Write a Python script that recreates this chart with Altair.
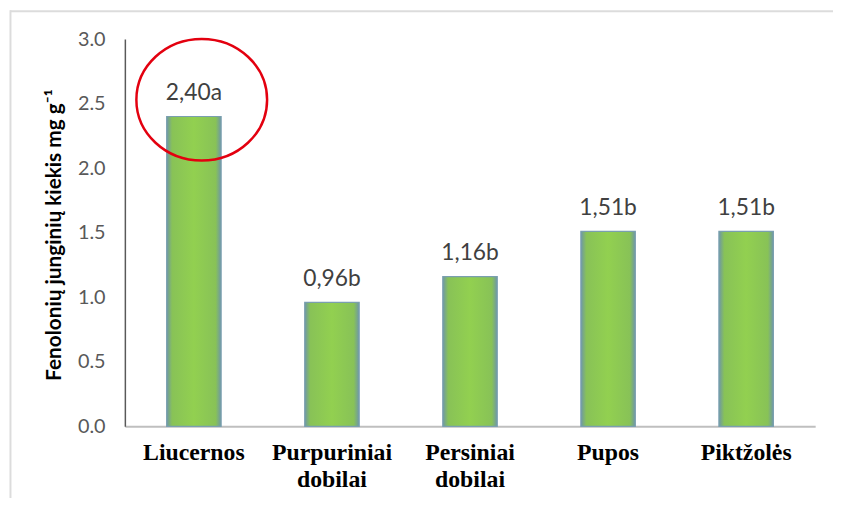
import altair as alt
import pandas as pd

categories = ["Liucernos", "Purpuriniai dobilai", "Persiniai dobilai", "Pupos", "Piktžolės"]
values = [2.40, 0.96, 1.16, 1.51, 1.51]
labels = ["2,40a", "0,96b", "1,16b", "1,51b", "1,51b"]
y_ticks = [0.0, 0.5, 1.0, 1.5, 2.0, 2.5, 3.0]
y_title = "Fenolonių junginių kiekis mg g⁻¹"

highlight_category = ["Liucernos"]
highlight_level = [2.53]

df = pd.DataFrame({"cat": categories, "val": values, "lab": labels})
hl = pd.DataFrame({"cat": highlight_category, "val": highlight_level})

W, H = 697, 391

x_enc = alt.X(
    "cat:N",
    sort=categories,
    scale=alt.Scale(domain=categories),
    axis=alt.Axis(
        title=None,
        labelAngle=0,
        labelFont="Liberation Serif",
        labelFontWeight="bold",
        labelFontSize=24,
        labelColor="#000000",
        labelPadding=15,
        labelLineHeight=27,
        labelBaseline="top",
        labelExpr="split(datum.label, ' ')",
        ticks=False,
        domainColor="#bfbfbf",
        domainWidth=2,
        grid=False,
    ),
)

y_enc = alt.Y(
    "val:Q",
    scale=alt.Scale(domain=[0, 3.0], nice=False, zero=True),
    axis=alt.Axis(
        title=y_title,
        values=y_ticks,
        format=".1f",
        ticks=False,
        grid=False,
        domainColor="#595959",
        domainWidth=1.5,
        labelFont="Lato",
        labelFontSize=20,
        labelColor="#595959",
        labelPadding=20,
        titleFont="Lato",
        titleFontWeight="bold",
        titleFontSize=21,
        titleColor="#000000",
        titleAngle=270,
        titleX=-71,
        titleY=H / 2 + 2,
        titleAlign="center",
        titleBaseline="middle",
    ),
)

bar_fill = {
    "gradient": "linear",
    "x1": 0, "y1": 0, "x2": 1, "y2": 0,
    "stops": [
        {"offset": 0.0, "color": "#6e97a6"},
        {"offset": 0.10, "color": "#88c257"},
        {"offset": 0.5, "color": "#92d050"},
        {"offset": 0.90, "color": "#88c257"},
        {"offset": 1.0, "color": "#6e97a6"},
    ],
}

bars = alt.Chart(df).mark_bar(size=55, fill=bar_fill, stroke="#7a9fb0", strokeWidth=1.2).encode(
    x=x_enc, y=y_enc
)

text = alt.Chart(df).mark_text(
    font="Lato", fontSize=23, color="#404040", dy=-17, baseline="alphabetic"
).encode(x=alt.X("cat:N", sort=categories), y="val:Q", text="lab:N")

ellipse_path = "M -0.88 0 A 1 0.93 0 1 1 1.12 0 A 1 0.93 0 1 1 -0.88 0 Z"
ring = alt.Chart(hl).mark_point(
    shape=ellipse_path, size=17424, filled=False, stroke="#e3000f", strokeWidth=2.5, opacity=1
).encode(x=alt.X("cat:N", sort=categories), y="val:Q")

border_top = alt.Chart(hl).mark_rule(stroke="#dcdcdc", strokeWidth=2).encode(
    x=alt.value(-116), x2=alt.value(W + 30), y=alt.value(-28)
)
border_left = alt.Chart(hl).mark_rule(stroke="#dcdcdc", strokeWidth=2).encode(
    x=alt.value(-115.5), y=alt.value(-29), y2=alt.value(H + 120)
)

chart = alt.layer(border_top, border_left, bars, text, ring).properties(
    width=W, height=H,
    autosize=alt.AutoSizeParams(type="none"),
    padding={"left": 118, "top": 29, "right": 18, "bottom": 70},
).configure_view(stroke=None)

chart.save("out.html", embed_options={"renderer": "svg", "actions": False})
